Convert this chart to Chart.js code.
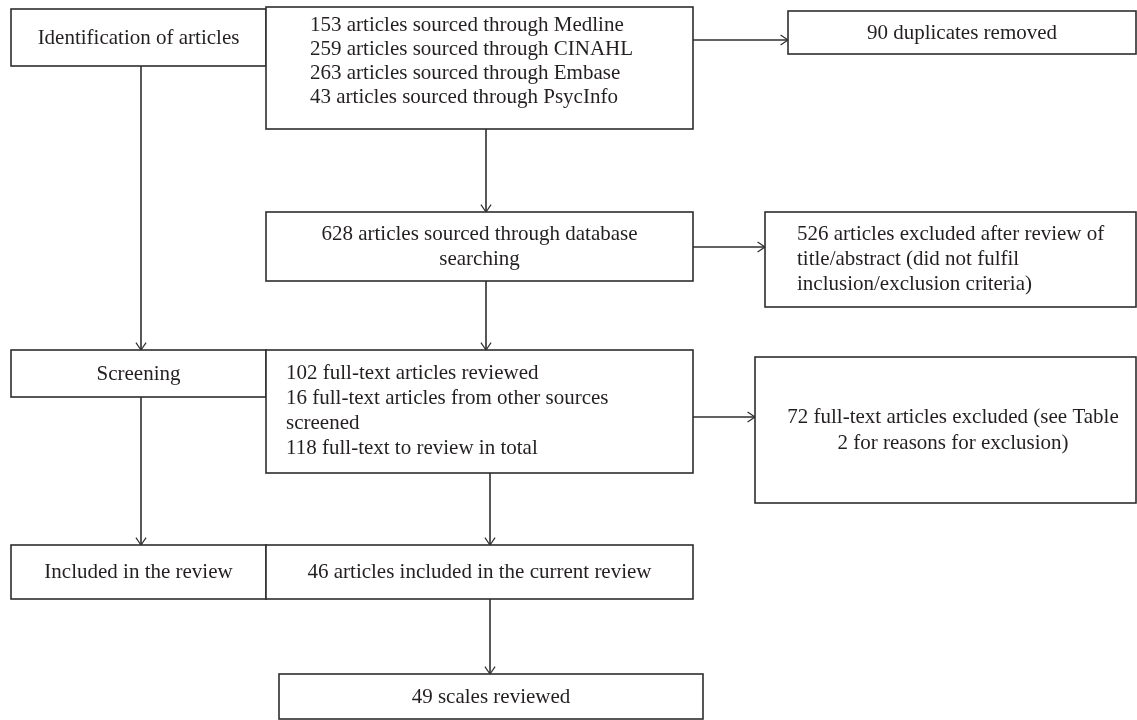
<!DOCTYPE html>
<html>
<head>
<meta charset="utf-8">
<script src="https://cdn.jsdelivr.net/npm/chart.js@4.4.1/dist/chart.umd.min.js"></script>
<style>
  html, body { margin: 0; padding: 0; background: #fff; }
  #wrap { width: 1137px; height: 720px; }
</style>
</head>
<body>
<div id="wrap"><canvas id="flow"></canvas></div>
<script>
// Counts
const sourceNames = ["Medline", "CINAHL", "Embase", "PsycInfo"];
const sourceCounts = [153, 259, 263, 43];
const stageNames = ["Identification of articles", "Screening", "Included in the review"];
const duplicatesRemoved = 90;
const databaseTotal = 628;
const excludedTitleAbstract = 526;
const fullTextReviewed = 102;
const otherSources = 16;
const fullTextTotal = 118;
const fullTextExcluded = 72;
const includedArticles = 46;
const scalesReviewed = 49;

// Box layout, in axis units (x: 0..1137, y: 0..720 top-down)
let boxes = [
  { x0: 11,  x1: 266,  y0: 9,   y1: 66,  align: "center", lineY: [38],
    lines: [stageNames[0]] },
  { x0: 266, x1: 693,  y0: 7,   y1: 129, align: "left", textX: 310, lineY: [25, 49, 73, 97],
    lines: sourceNames.map((s, i) => `${sourceCounts[i]} articles sourced through ${s}`) },
  { x0: 788, x1: 1136, y0: 11,  y1: 54,  align: "center", lineY: [33],
    lines: [`${duplicatesRemoved} duplicates removed`] },
  { x0: 266, x1: 693,  y0: 212, y1: 281, align: "center", lineY: [234, 259],
    lines: [`${databaseTotal} articles sourced through database`, "searching"] },
  { x0: 765, x1: 1136, y0: 212, y1: 307, align: "left", textX: 797, lineY: [234, 259, 284],
    lines: [`${excludedTitleAbstract} articles excluded after review of`, "title/abstract (did not fulfil", "inclusion/exclusion criteria)"] },
  { x0: 11,  x1: 266,  y0: 350, y1: 397, align: "center", lineY: [374],
    lines: [stageNames[1]] },
  { x0: 266, x1: 693,  y0: 350, y1: 473, align: "left", textX: 286, lineY: [373, 398, 423, 448],
    lines: [`${fullTextReviewed} full-text articles reviewed`, `${otherSources} full-text articles from other sources`, "screened", `${fullTextTotal} full-text to review in total`] },
  { x0: 755, x1: 1136, y0: 357, y1: 503, align: "center", cx: 953, lineY: [417, 443],
    lines: [`${fullTextExcluded} full-text articles excluded (see Table`, "2 for reasons for exclusion)"] },
  { x0: 11,  x1: 266,  y0: 545, y1: 599, align: "center", lineY: [572],
    lines: [stageNames[2]] },
  { x0: 266, x1: 693,  y0: 545, y1: 599, align: "center", lineY: [572],
    lines: [`${includedArticles} articles included in the current review`] },
  { x0: 279, x1: 703,  y0: 674, y1: 719, align: "center", lineY: [697],
    lines: [`${scalesReviewed} scales reviewed`] }
];

// Connectors: [fromX, fromY, toX, toY], arrowhead at the end
let arrows = [
  [693, 40, 788, 40],
  [486, 129, 486, 212],
  [693, 247, 765, 247],
  [141, 66, 141, 350],
  [486, 281, 486, 350],
  [693, 417, 755, 417],
  [141, 397, 141, 545],
  [490, 473, 490, 545],
  [490, 599, 490, 674]
];

const flowPlugin = {
  id: "flow",
  afterDraw: function(chart) {
    let ctx = chart.ctx;
    let sx = chart.scales.x, sy = chart.scales.y;
    let px = v => sx.getPixelForValue(v);
    let py = v => sy.getPixelForValue(v);

    ctx.save();
    ctx.strokeStyle = "#2e2e2e";
    ctx.lineWidth = 1.6;

    // arrows
    for(let a of arrows) {
      let x0 = px(a[0]), y0 = py(a[1]), x1 = px(a[2]), y1 = py(a[3]);
      ctx.beginPath();
      ctx.moveTo(x0, y0);
      ctx.lineTo(x1, y1);
      ctx.stroke();

      let ang = Math.atan2(y1 - y0, x1 - x0);
      let len = 9, spread = 0.6;
      ctx.lineWidth = 1.2;
      ctx.beginPath();
      ctx.moveTo(x1 - len * Math.cos(ang - spread), y1 - len * Math.sin(ang - spread));
      ctx.lineTo(x1, y1);
      ctx.lineTo(x1 - len * Math.cos(ang + spread), y1 - len * Math.sin(ang + spread));
      ctx.stroke();
      ctx.lineWidth = 1.6;
    }

    // boxes and labels
    ctx.font = "21px 'Liberation Serif', 'DejaVu Serif', serif";
    ctx.textBaseline = "middle";
    for(let b of boxes) {
      let x0 = px(b.x0), x1 = px(b.x1), y0 = py(b.y0), y1 = py(b.y1);
      ctx.fillStyle = "#fff";
      ctx.fillRect(x0, y0, x1 - x0, y1 - y0);
      ctx.strokeRect(x0, y0, x1 - x0, y1 - y0);

      ctx.fillStyle = "#231f20";
      b.lines.forEach(function(t, i) {
        let ty = py(b.lineY[i]);
        if(b.align == "left") {
          ctx.textAlign = "left";
          ctx.fillText(t, px(b.textX), ty);
        } else {
          ctx.textAlign = "center";
          let cx = b.cx ? px(b.cx) : (x0 + x1) / 2;
          ctx.fillText(t, cx, ty);
        }
      });
    }
    ctx.restore();
  }
};

new Chart("flow", {
  type: "scatter",
  data: { datasets: [] },
  options: {
    responsive: true,
    maintainAspectRatio: false,
    animation: false,
    layout: { padding: 0 },
    plugins: { legend: { display: false }, tooltip: { enabled: false } },
    scales: {
      x: { type: "linear", min: 0, max: 1137, display: false },
      y: { type: "linear", min: 0, max: 720, reverse: true, display: false }
    }
  },
  plugins: [flowPlugin]
});
</script>
</body>
</html>
